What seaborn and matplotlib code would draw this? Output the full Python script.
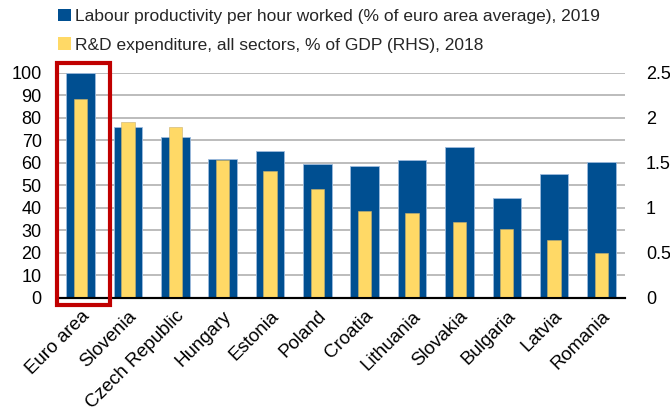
import matplotlib
matplotlib.use("Agg")
import matplotlib.pyplot as plt
from matplotlib.patches import Patch, Rectangle
import seaborn as sns
import pandas as pd

countries = ["Euro area", "Slovenia", "Czech Republic", "Hungary", "Estonia", "Poland",
             "Croatia", "Lithuania", "Slovakia", "Bulgaria", "Latvia", "Romania"]
productivity = [100, 76.1, 71.3, 61.8, 65.3, 59.7, 58.7, 61.3, 67.1, 44.4, 55.0, 60.3]
rd_expenditure = [2.21, 1.95, 1.90, 1.53, 1.41, 1.21, 0.97, 0.94, 0.84, 0.76, 0.64, 0.50]
left_ticks = list(range(0, 101, 10))
right_ticks = [0, 0.5, 1, 1.5, 2, 2.5]
right_labels = ["0", "0.5", "1", "1.5", "2", "2.5"]

label_prod = "Labour productivity per hour worked (% of euro area average), 2019"
label_rd = "R&D expenditure, all sectors, % of GDP (RHS), 2018"

BLUE = "#004F91"
YELLOW = "#FFD966"

sns.set_theme(style="white")
plt.rcParams["font.family"] = ["Liberation Sans", "DejaVu Sans"]

df = pd.DataFrame({"country": countries, "prod": productivity, "rd": rd_expenditure})

fig = plt.figure(figsize=(6.7, 4.12), dpi=100)
ax = fig.add_axes([0.085, 0.277, 0.848, 0.546])

ax.set_axisbelow(True)
ax.yaxis.grid(True, color="#B0B0B0", linewidth=1.2)
sns.barplot(data=df, x="country", y="prod", color=BLUE, width=0.6, saturation=1,
            edgecolor="#9DBBDD", linewidth=0.6, ax=ax)
ax.set_ylim(0, 100)
ax.set_xlim(-0.5, len(countries) - 0.5)
ax.set_yticks(left_ticks)
ax.set_xlabel("")
ax.set_ylabel("")

ax2 = ax.twinx()
sns.barplot(data=df, x="country", y="rd", color=YELLOW, width=0.28, saturation=1,
            edgecolor="#C8B070", linewidth=0.4, ax=ax2)
ax2.set_ylim(0, 2.5)
ax2.set_yticks(right_ticks)
ax2.set_yticklabels(right_labels)
ax2.set_ylabel("")
ax2.set_xlim(-0.5, len(countries) - 0.5)

for a in (ax, ax2):
    for side in ("left", "right", "top"):
        a.spines[side].set_visible(False)
    a.spines["bottom"].set_color("black")
    a.spines["bottom"].set_linewidth(1.5)
    a.tick_params(axis="y", length=0, labelsize=13, colors="black")
ax.tick_params(axis="y", pad=11)
ax2.tick_params(axis="y", pad=15)

ax.tick_params(axis="x", length=0, labelsize=13.5, colors="black", pad=7)
ax.set_xticks(range(len(countries)))
ax.set_xticklabels(countries, rotation=45, ha="right", rotation_mode="anchor")

# highlight box around the euro area aggregate
ax2.add_patch(Rectangle((-0.5, -0.08), 1.12, 2.69, fill=False, edgecolor="#C00000",
                        linewidth=3, clip_on=False, zorder=10))

handles = [Patch(facecolor=BLUE, edgecolor="none"), Patch(facecolor=YELLOW, edgecolor="none")]
fig.legend(handles, [label_prod, label_rd], loc="upper left", bbox_to_anchor=(0.073, 1.0),
           frameon=False, fontsize=12.5, handlelength=0.75, handleheight=0.75,
           handletextpad=0.25, labelspacing=0.75, borderaxespad=0.1)

fig.savefig("out.png", dpi=100)
